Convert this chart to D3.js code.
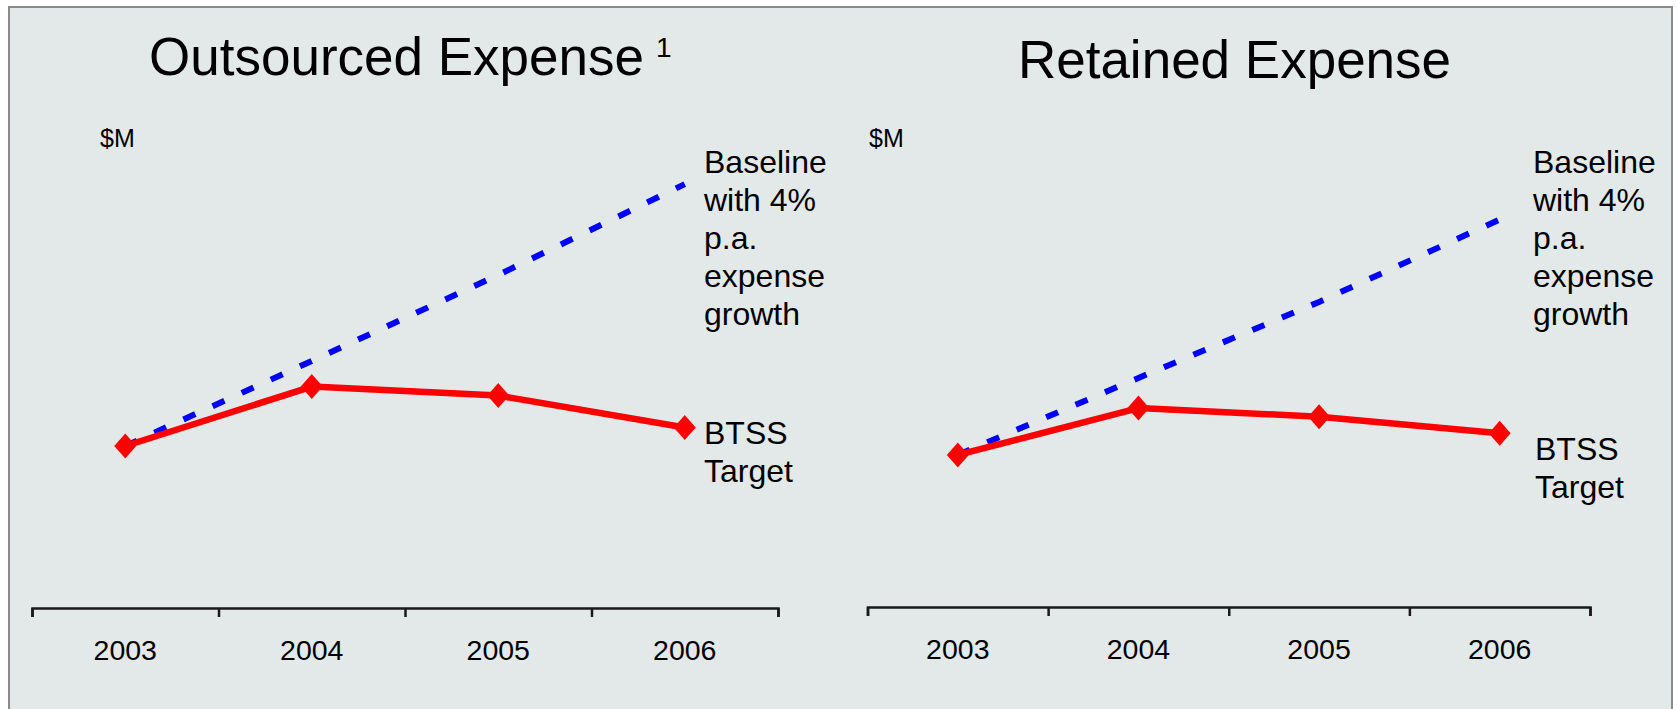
<!DOCTYPE html>
<html>
<head>
<meta charset="utf-8">
<script src="https://cdn.jsdelivr.net/npm/d3@7"></script>
<style>
  html, body { margin: 0; padding: 0; background: #ffffff; }
  svg { display: block; font-family: "Liberation Sans", Arial, Helvetica, sans-serif; }
</style>
</head>
<body>
<svg id="chart" width="1677" height="709"></svg>
<script>
// Years on the horizontal axis
const years = ["2003", "2004", "2005", "2006"];

// Outsourced expense (index units, no numeric axis shown)
const outsourcedTarget   = [36.0, 49.2, 47.2, 40.1];
const outsourcedBaseline = [36.0, 54.9, 74.0, 94.2];

// Retained expense (index units)
const retainedTarget   = [33.8, 44.2, 42.3, 38.6];
const retainedBaseline = [33.8, 50.9, 67.8, 86.1];

// Text
const titles = ["Outsourced Expense", "Retained Expense"];
const footnoteMark = "1";
const unitLabel = "$M";
const baselineLabel = ["Baseline", "with 4%", "p.a.", "expense", "growth"];
const targetLabel = ["BTSS", "Target"];

const svg = d3.select("#chart");

// Panel frame
svg.append("rect")
  .attr("x", 9).attr("y", 7)
  .attr("width", 1663).attr("height", 720)
  .attr("fill", "#e3e9e9")
  .attr("stroke", "#8a8a8a")
  .attr("stroke-width", 2);

const panels = [
  {
    title: titles[0], titleX: 149, titleY: 75, anchor: "start", sup: true,
    x0: 32, x1: 778, axisY: 608,
    target: outsourcedTarget, baseline: outsourcedBaseline,
    unitX: 100, labelX: 704, targetLabelX: 704, targetLabelY: 444
  },
  {
    title: titles[1], titleX: 1234.5, titleY: 78, anchor: "middle", sup: false,
    x0: 867.5, x1: 1590, axisY: 607,
    target: retainedTarget, baseline: retainedBaseline,
    unitX: 869, labelX: 1533, targetLabelX: 1535, targetLabelY: 460
  }
];

panels.forEach(p => {
  const g = svg.append("g");

  const x = d3.scaleBand().domain(years).range([p.x0, p.x1]).padding(0);
  const xEdge = d3.scaleLinear().domain([0, years.length]).range([p.x0, p.x1]);
  const y = d3.scaleLinear().domain([0, 100]).range([p.axisY, p.axisY - 450]);

  // Title
  const t = g.append("text")
    .attr("x", p.titleX).attr("y", p.titleY)
    .attr("text-anchor", p.anchor)
    .attr("font-size", 53)
    .attr("fill", "#000")
    .text(p.title);
  if (p.sup) {
    const w = t.node().getComputedTextLength();
    g.append("text")
      .attr("x", p.titleX + w + 12).attr("y", 57)
      .attr("font-size", 28)
      .attr("fill", "#000")
      .text(footnoteMark);
  }

  // Unit label
  g.append("text")
    .attr("x", p.unitX).attr("y", 147)
    .attr("font-size", 25)
    .attr("fill", "#000")
    .text(unitLabel);

  // Axis line with tick marks at category boundaries
  const edgeAxis = g.append("g")
    .attr("transform", `translate(0,${p.axisY})`)
    .call(d3.axisBottom(xEdge)
      .tickValues(d3.range(years.length + 1))
      .tickFormat("")
      .tickSizeOuter(0)
      .tickSize(9));
  edgeAxis.select(".domain").attr("stroke", "#1a1a1a").attr("stroke-width", 2.5);
  edgeAxis.selectAll(".tick line").attr("stroke", "#1a1a1a").attr("stroke-width", 2.5);

  // Category labels centred in each band
  const labelAxis = g.append("g")
    .attr("transform", `translate(0,${p.axisY})`)
    .call(d3.axisBottom(x).tickSize(0).tickPadding(32));
  labelAxis.select(".domain").remove();
  labelAxis.selectAll(".tick text")
    .attr("font-size", 28.5)
    .attr("font-family", "\"Liberation Sans\", Arial, sans-serif")
    .attr("fill", "#000");

  const cx = d => x(d) + x.bandwidth() / 2;
  const line = d3.line()
    .x((v, i) => cx(years[i]))
    .y(v => y(v));

  // Baseline (dashed blue)
  g.append("path")
    .attr("d", line(p.baseline))
    .attr("fill", "none")
    .attr("stroke", "#0000ff")
    .attr("stroke-width", 6)
    .attr("stroke-dasharray", "13,19");

  // BTSS target (solid red)
  g.append("path")
    .attr("d", line(p.target))
    .attr("fill", "none")
    .attr("stroke", "#ff0000")
    .attr("stroke-width", 6.5)
    .attr("stroke-linejoin", "round");

  // Diamond markers
  g.selectAll("path.marker")
    .data(p.target)
    .join("path")
    .attr("class", "marker")
    .attr("d", (v, i) => {
      const px = cx(years[i]), py = y(v);
      return `M${px},${py - 12.5}L${px + 11},${py}L${px},${py + 12.5}L${px - 11},${py}Z`;
    })
    .attr("fill", "#ff0000");

  // Series labels
  const bl = g.append("text")
    .attr("font-size", 32)
    .attr("fill", "#000");
  baselineLabel.forEach((s, i) => {
    bl.append("tspan").attr("x", p.labelX).attr("y", 173 + i * 38).text(s);
  });

  const tl = g.append("text")
    .attr("font-size", 32)
    .attr("fill", "#000");
  targetLabel.forEach((s, i) => {
    tl.append("tspan").attr("x", p.targetLabelX).attr("y", p.targetLabelY + i * 38).text(s);
  });
});
</script>
</body>
</html>
